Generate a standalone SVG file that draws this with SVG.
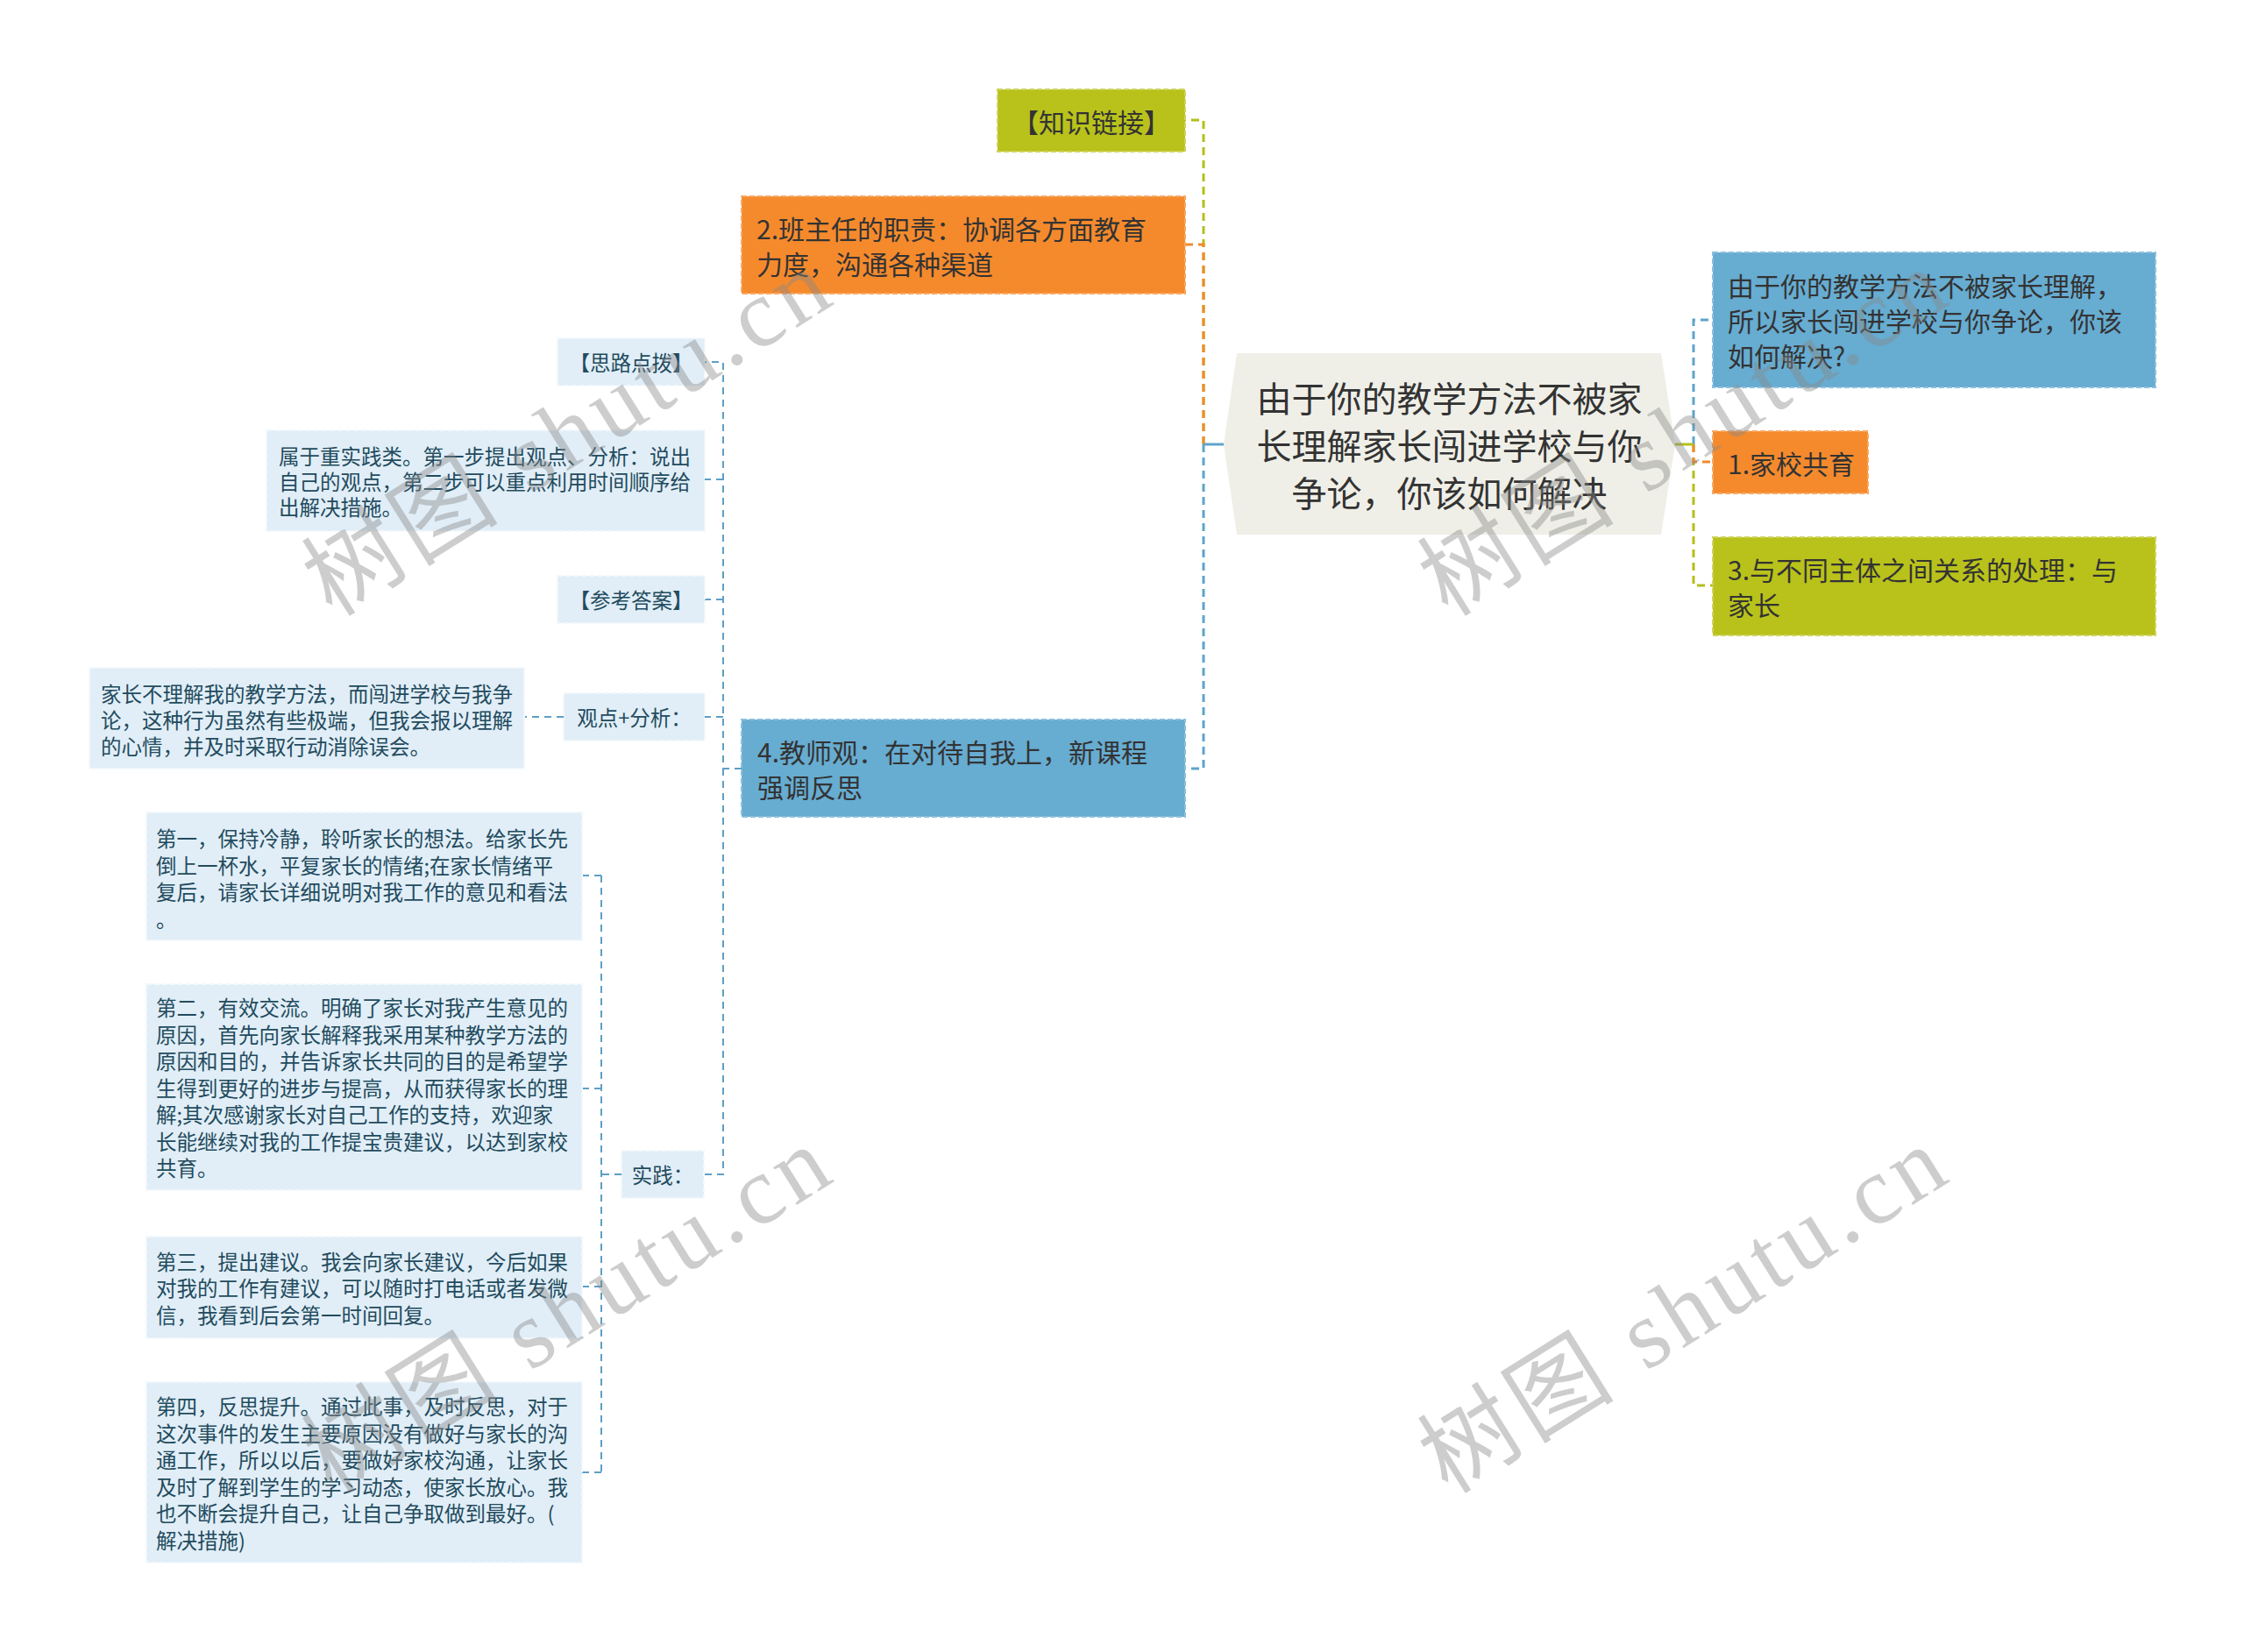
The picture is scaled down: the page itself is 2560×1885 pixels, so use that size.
<svg xmlns="http://www.w3.org/2000/svg" width="2560" height="1885" viewBox="0 0 2560 1885">
<style>
text{font-family:"Noto Sans CJK SC","Microsoft YaHei",sans-serif;dominant-baseline:central}
.t30{font-size:30px;fill:#333}
.t40{font-size:40px;fill:#333}
.ts{font-size:23.5px;fill:#234b5e}
.mid{text-anchor:middle}
.olive{fill:#b9c21b;stroke:#cdd35a;stroke-width:2;stroke-dasharray:6 3}
.orange{fill:#f58a2d;stroke:#f8a862;stroke-width:2;stroke-dasharray:6 3}
.blue{fill:#67acd1;stroke:#8cc0dc;stroke-width:2;stroke-dasharray:6 3}
.light{fill:#e1eef7;stroke:#f2f8fc;stroke-width:2;stroke-dasharray:6 3}
.c{fill:none;stroke-width:3;stroke-dasharray:9 6}
.cs{fill:none;stroke:#5e9fc5;stroke-width:2;stroke-dasharray:8 6}
.co{stroke:#b4bf1a}.cr{stroke:#f08a2c}.cb{stroke:#5fa4cc}
.wm{font-family:"Liberation Serif","Noto Sans CJK SC",serif;font-size:110px;fill:#888;fill-opacity:0.42;letter-spacing:6px;dominant-baseline:alphabetic}
</style>
<rect width="2560" height="1885" fill="#fff"/>
<g id="connectors">
<path class="c co" d="M1373,507 V137 H1352"/>
<path class="c cr" d="M1373,507 V279 H1352"/>
<path class="c cb" d="M1373,507 V877 H1352"/>
<path d="M1373,507 H1396" stroke="#5fa4cc" stroke-width="3"/>
<path class="c cb" d="M1932,507 V365 H1954"/>
<path class="c co" d="M1932,507 V668 H1954"/>
<path class="c cr" d="M1932,507 V527 H1954"/>
<path d="M1911,507 H1932" stroke="#b4bf1a" stroke-width="3"/>
<path class="cs" d="M846,877 H825 V413 H804"/>
<path class="cs" d="M825,547 H804"/>
<path class="cs" d="M825,684 H804"/>
<path class="cs" d="M825,818 H804"/>
<path class="cs" d="M825,877 V1340 H803"/>
<path class="cs" d="M643,818 H598"/>
<path class="cs" d="M709,1340 H686"/>
<path class="cs" d="M686,999 V1680"/>
<path class="cs" d="M686,999 H664"/>
<path class="cs" d="M686,1242 H664"/>
<path class="cs" d="M686,1468 H664"/>
<path class="cs" d="M686,1680 H664"/>
</g>
<g id="n-center">
<polygon points="1396,507 1411,403 1895,403 1911,507 1895,610 1411,610" fill="#efefe7"/>
<text class="t40 mid" x="1653.5" y="453">由于你的教学方法不被家</text>
<text class="t40 mid" x="1653.5" y="507">长理解家长闯进学校与你</text>
<text class="t40 mid" x="1653.5" y="561">争论，你该如何解决</text>
</g>
<g id="n-zhishi">
<rect class="olive" x="1138" y="102" width="214" height="71"/>
<text class="t30 mid" x="1245" y="137.5">【知识链接】</text>
</g>
<g id="n-banzhuren">
<rect class="orange" x="846" y="224" width="506" height="111"/>
<text class="t30" x="863" y="260">2.班主任的职责：协调各方面教育</text>
<text class="t30" x="863" y="300">力度，沟通各种渠道</text>
</g>
<g id="n-question">
<rect class="blue" x="1954" y="288" width="505" height="154"/>
<text class="t30" x="1971" y="325">由于你的教学方法不被家长理解，</text>
<text class="t30" x="1971" y="365">所以家长闯进学校与你争论，你该</text>
<text class="t30" x="1971" y="405">如何解决?</text>
</g>
<g id="n-jiaxiao">
<rect class="orange" x="1954" y="492" width="177" height="71"/>
<text class="t30" x="1971" y="527.5">1.家校共育</text>
</g>
<g id="n-guanxi">
<rect class="olive" x="1954" y="613" width="505" height="112"/>
<text class="t30" x="1971" y="649">3.与不同主体之间关系的处理：与</text>
<text class="t30" x="1971" y="689">家长</text>
</g>
<g id="n-jiaoshi">
<rect class="blue" x="846" y="821" width="506" height="111"/>
<text class="t30" x="864" y="857">4.教师观：在对待自我上，新课程</text>
<text class="t30" x="864" y="897">强调反思</text>
</g>
<g id="n-silu">
<rect class="light" x="636" y="386" width="168" height="54"/>
<text class="ts mid" x="720" y="413">【思路点拨】</text>
</g>
<g id="n-shuyu">
<rect class="light" x="304" y="491" width="500" height="115"/>
<text class="ts" x="318" y="519.5">属于重实践类。第一步提出观点、分析：说出</text>
<text class="ts" x="318" y="548.5">自己的观点，第二步可以重点利用时间顺序给</text>
<text class="ts" x="318" y="577.5">出解决措施。</text>
</g>
<g id="n-cankao">
<rect class="light" x="636" y="657" width="168" height="54"/>
<text class="ts mid" x="720" y="684">【参考答案】</text>
</g>
<g id="n-guandian">
<rect class="light" x="643" y="791" width="161" height="54"/>
<text class="ts mid" x="723.5" y="818">观点+分析：</text>
</g>
<g id="n-jiazhang">
<rect class="light" x="102" y="762" width="496" height="115"/>
<text class="ts" x="115" y="791">家长不理解我的教学方法，而闯进学校与我争</text>
<text class="ts" x="115" y="821">论，这种行为虽然有些极端，但我会报以理解</text>
<text class="ts" x="115" y="851">的心情，并及时采取行动消除误会。</text>
</g>
<g id="n-shijian">
<rect class="light" x="709" y="1313" width="94" height="54"/>
<text class="ts mid" x="756" y="1340">实践：</text>
</g>
<g id="n-di1">
<rect class="light" x="167" y="927" width="497" height="146"/>
<text class="ts" x="178" y="956">第一，保持冷静，聆听家长的想法。给家长先</text>
<text class="ts" x="178" y="986.5">倒上一杯水，平复家长的情绪;在家长情绪平</text>
<text class="ts" x="178" y="1017">复后，请家长详细说明对我工作的意见和看法</text>
<text class="ts" x="178" y="1047.5">。</text>
</g>
<g id="n-di2">
<rect class="light" x="167" y="1123" width="497" height="235"/>
<text class="ts" x="178" y="1149">第二，有效交流。明确了家长对我产生意见的</text>
<text class="ts" x="178" y="1179.5">原因，首先向家长解释我采用某种教学方法的</text>
<text class="ts" x="178" y="1210">原因和目的，并告诉家长共同的目的是希望学</text>
<text class="ts" x="178" y="1240.5">生得到更好的进步与提高，从而获得家长的理</text>
<text class="ts" x="178" y="1271">解;其次感谢家长对自己工作的支持，欢迎家</text>
<text class="ts" x="178" y="1301.5">长能继续对我的工作提宝贵建议，以达到家校</text>
<text class="ts" x="178" y="1332">共育。</text>
</g>
<g id="n-di3">
<rect class="light" x="167" y="1411" width="497" height="116"/>
<text class="ts" x="178" y="1438.5">第三，提出建议。我会向家长建议，今后如果</text>
<text class="ts" x="178" y="1469">对我的工作有建议，可以随时打电话或者发微</text>
<text class="ts" x="178" y="1499.5">信，我看到后会第一时间回复。</text>
</g>
<g id="n-di4">
<rect class="light" x="167" y="1577" width="497" height="206"/>
<text class="ts" x="178" y="1604">第四，反思提升。通过此事，及时反思，对于</text>
<text class="ts" x="178" y="1634.5">这次事件的发生主要原因没有做好与家长的沟</text>
<text class="ts" x="178" y="1665">通工作，所以以后，要做好家校沟通，让家长</text>
<text class="ts" x="178" y="1695.5">及时了解到学生的学习动态，使家长放心。我</text>
<text class="ts" x="178" y="1726">也不断会提升自己，让自己争取做到最好。(</text>
<text class="ts" x="178" y="1756.5">解决措施)</text>
</g>
<g id="watermarks">
<text class="wm" transform="translate(379,705) rotate(-32)">树图 shutu.cn</text>
<text class="wm" transform="translate(1652,705) rotate(-32)">树图 shutu.cn</text>
<text class="wm" transform="translate(379,1706) rotate(-32)">树图 shutu.cn</text>
<text class="wm" transform="translate(1652,1706) rotate(-32)">树图 shutu.cn</text>
</g>
</svg>
